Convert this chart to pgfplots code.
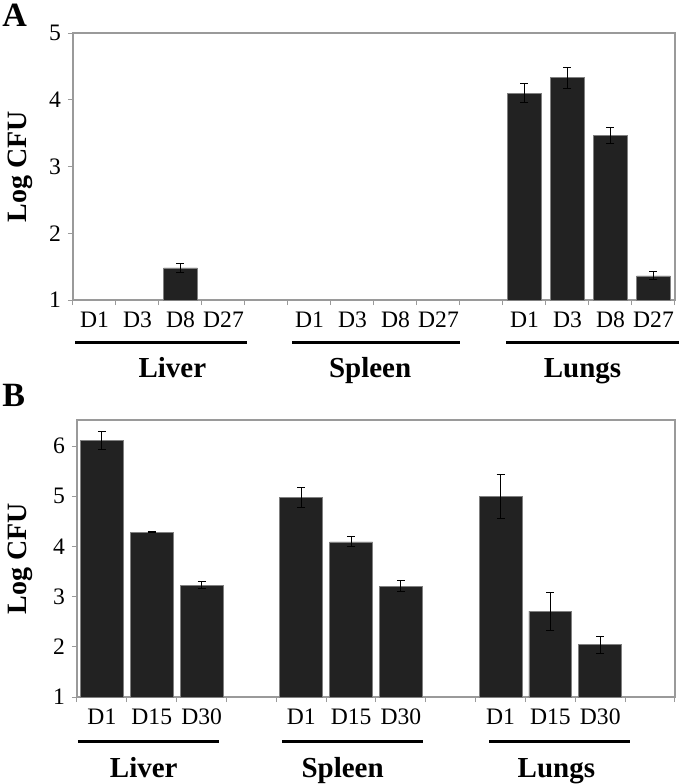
\documentclass[border=0pt]{standalone}
\usepackage{pgfplots}
\pgfplotsset{compat=1.18}
\usepackage{fontspec}
\setmainfont{Liberation Serif}
\definecolor{barfill}{HTML}{222222}
\definecolor{axgray}{HTML}{9A9A9A}
\tikzset{grp/.style={font=\bfseries\fontsize{14.5}{16}\selectfont, anchor=base, inner sep=0pt}}
\pgfplotsset{
  common/.style={
    scale only axis,
    clip mode=individual,
    ybar,
    axis line style={axgray, line width=0.6pt},
    tick pos=left,
    tick align=outside,
    tick style={axgray, line width=0.5pt},
    major tick length=2.5pt,
    x tick label as interval,
    /pgf/number format/assume math mode=true,
    tick label style={font=\fontsize{11.8}{13}\selectfont},
    ylabel={Log CFU},
    ylabel style={font=\bfseries\fontsize{14}{16}\selectfont, anchor=center},
    error bars/error bar style={black, line width=0.5pt},
    error bars/error mark options={rotate=90, mark size=2pt, line width=0.5pt},
  },
  mybar/.style={fill=barfill, draw=gray, line width=0.4pt,
    error bars/.cd, y dir=both, y explicit},
}
\begin{document}
\begin{tikzpicture}
\useasboundingbox (0,0) rectangle (340pt,-392pt);
\node[anchor=north west, inner sep=0pt, font=\bfseries\fontsize{17}{18}\selectfont] at (1pt,-2pt) {A};
\node[anchor=north west, inner sep=0pt, font=\bfseries\fontsize{17}{18}\selectfont] at (1pt,-192pt) {B};
% Panel A
\begin{axis}[common,
  at={(36.5pt,-16.5pt)}, anchor=north west,
  width=301pt, height=133.5pt,
  xmin=-0.5, xmax=13.5, ymin=1, ymax=5,
  ytick={1,2,3,4,5},
  xtick={-0.5,0.5,...,13.5},
  xticklabels={D1,D3,D8,D27,,D1,D3,D8,D27,,D1,D3,D8,D27},
  bar width=0.78,
  ylabel style={at={(axis description cs:-0.088,0.5)}},
]
\addplot[mybar] coordinates {
  (2,1.48) +- (0,0.07)
  (10,4.10) +- (0,0.14)
  (11,4.33) +- (0,0.16)
  (12,3.46) +- (0,0.12)
  (13,1.36) +- (0,0.06)
};
\draw[black, line width=1.5pt] ([yshift=-21.3pt]axis cs:-0.45,1) -- ([yshift=-21.3pt]axis cs:3.55,1);
\draw[black, line width=1.5pt] ([yshift=-21.3pt]axis cs:4.6,1) -- ([yshift=-21.3pt]axis cs:8.5,1);
\draw[black, line width=1.5pt] ([yshift=-21.3pt]axis cs:9.57,1) -- ([yshift=-21.3pt]axis cs:13.6,1);
\node[grp] at ([yshift=-38.5pt]axis cs:1.81,1) {Liver};
\node[grp] at ([yshift=-38.5pt]axis cs:6.41,1) {Spleen};
\node[grp] at ([yshift=-38.5pt]axis cs:11.35,1) {Lungs};
\end{axis}
% Panel B
\begin{axis}[common,
  at={(38.5pt,-210pt)}, anchor=north west,
  width=299pt, height=138.5pt,
  xmin=-0.5, xmax=11.5, ymin=1, ymax=6.52,
  ytick={1,2,3,4,5,6},
  xtick={-0.5,0.5,...,11.5},
  xticklabels={D1,D15,D30,,D1,D15,D30,,D1,D15,D30,},
  bar width=0.86,
  ylabel style={at={(axis description cs:-0.095,0.5)}},
]
\addplot[mybar] coordinates {
  (0,6.12) +- (0,0.18)
  (1,4.28) +- (0,0.01)
  (2,3.23) +- (0,0.07)
  (4,4.98) +- (0,0.20)
  (5,4.09) +- (0,0.10)
  (6,3.21) +- (0,0.11)
  (8,4.99) +- (0,0.44)
  (9,2.71) +- (0,0.38)
  (10,2.04) +- (0,0.17)
};
\draw[black, line width=1.5pt] ([yshift=-22.3pt]axis cs:-0.48,1) -- ([yshift=-22.3pt]axis cs:2.35,1);
\draw[black, line width=1.5pt] ([yshift=-22.3pt]axis cs:3.62,1) -- ([yshift=-22.3pt]axis cs:6.45,1);
\draw[black, line width=1.5pt] ([yshift=-22.3pt]axis cs:7.77,1) -- ([yshift=-22.3pt]axis cs:10.6,1);
\node[grp] at ([yshift=-40pt]axis cs:0.84,1) {Liver};
\node[grp] at ([yshift=-40pt]axis cs:4.83,1) {Spleen};
\node[grp] at ([yshift=-40pt]axis cs:9.12,1) {Lungs};
\end{axis}
\end{tikzpicture}
\end{document}
